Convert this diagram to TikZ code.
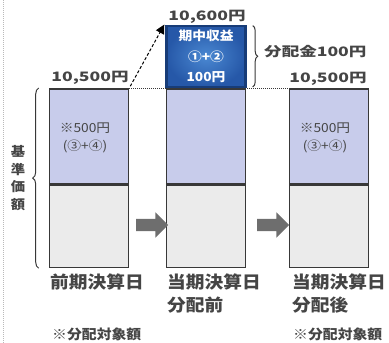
\documentclass[tikz,border=0pt]{standalone}
\usepackage{fontspec}
\setmainfont{Noto Sans CJK JP}
\newfontfamily\jpfont{Noto Sans CJK JP}[FakeStretch=1.1]
\newfontfamily\jpwide{Noto Sans CJK JP}[FakeStretch=1.35]
\usetikzlibrary{arrows.meta, shapes.arrows, decorations.pathreplacing}

\definecolor{uplav}{HTML}{C8CCEB}
\definecolor{lowgray}{HTML}{EBEBEB}
\definecolor{edgegray}{HTML}{383838}
\definecolor{incblue}{HTML}{4A88D2}
\definecolor{incmid}{HTML}{2658A8}
\definecolor{incdark}{HTML}{173C78}
\definecolor{txtgray}{HTML}{454545}
\definecolor{arrgray}{HTML}{6E6E6E}

\tikzset{
    part/.style={draw=edgegray, line width=1.6pt, minimum width=79pt, inner sep=0pt, anchor=north},
    price/.style={font=\jpwide\bfseries\fontsize{13}{13}\selectfont, text=txtgray, inner sep=0pt, anchor=base},
    amount/.style={font=\jpfont\fontsize{12.5}{13}\selectfont, text=txtgray, inner sep=0pt, anchor=base},
    dateline/.style={font=\jpfont\bfseries\fontsize{17}{17}\selectfont, text=txtgray, inner sep=0pt, anchor=base west},
    notebox/.style={font=\jpfont\bfseries\fontsize{13.5}{14}\selectfont, text=txtgray, inner sep=0pt, anchor=base west},
    fwd/.style={single arrow, fill=arrgray, minimum height=32pt, inner xsep=0pt, inner ysep=6pt,
        single arrow head extend=6.5pt, single arrow head indent=0pt}
}

\begin{document}
\begin{tikzpicture}[x=1pt, y=-1pt]
        \useasboundingbox (0,0) rectangle (389,343);
        \draw[densely dotted, gray!55, line width=1pt] (3,0) -- (3,343);

        % boxes
        \node[part, fill=uplav, minimum height=95pt] (b1top) at (89,88) {};
        \node[part, fill=lowgray, minimum height=82pt] (b1bot) at (b1top.south) {};
        \node[part, fill=uplav, minimum height=95pt] (b3top) at (329,88) {};
        \node[part, fill=lowgray, minimum height=82pt] (b3bot) at (b3top.south) {};

        \draw[densely dotted, edgegray, line width=1pt] (b1top.north east) -- (b3top.north west);

        \node[part, fill=uplav, minimum height=95pt] (b2top) at (206,88) {};
        \node[part, fill=lowgray, minimum height=82pt] (b2bot) at (b2top.south) {};
        \node[part, draw=incdark, line width=2.4pt, inner color=incblue, outer color=incmid,
            minimum height=61pt, anchor=south, text=white, align=center,
            font=\jpfont\bfseries\fontsize{12.5}{20.5}\selectfont] (inc) at (b2top.north) {期中収益\\①+②\\100円};

        \draw[densely dashed, line width=1pt, -{Triangle[length=9pt, width=9pt]}, shorten <=2pt]
            (b1top.north east) -- ([xshift=-1pt]inc.north west);

        % prices
        \node[price] (p1) at (90,81) {10,500円};
        \node[price] (p2) at (207,20) {10,600円};
        \node[price] (p3) at (328,82) {10,500円};
        \node[price, anchor=base west] (dist) at (264,56.5) {分配金100円};

        \node[amount] (a1) at (85,132) {※500円};
        \node[amount] (a1b) at (85,150) {(③+④)};
        \node[amount] (a3) at (325,132) {※500円};
        \node[amount] (a3b) at (325,150) {(③+④)};

        % braces
        \draw[edgegray, line width=1pt, decorate, decoration={brace, amplitude=6pt}]
            ([xshift=-10pt]b1bot.south west) -- ([xshift=-10pt]b1top.north west);
        \draw[edgegray, line width=1pt, decorate, decoration={brace, amplitude=5pt}]
            ([xshift=6pt,yshift=-1pt]inc.north east) -- ([xshift=6pt,yshift=1pt]inc.south east);
        \node[font=\jpfont\bfseries\fontsize{13}{17.5}\selectfont, text=txtgray, align=center, inner sep=0pt] (nav) at (18,178) {基\\準\\価\\額};

        % forward arrows
        \node[fwd] (go1) at (149,225) {};
        \node[fwd] (go2) at (270,225) {};

        % dates
        \node[dateline] (d1) at (50,288) {前期決算日};
        \node[dateline] (d2) at (167,288) {当期決算日};
        \node[dateline] (d2b) at (167,311) {分配前};
        \node[dateline] (d3) at (292,288) {当期決算日};
        \node[dateline] (d3b) at (292,311) {分配後};
        \node[notebox] (n1) at (52,339) {※分配対象額};
        \node[notebox] (n3) at (293,339) {※分配対象額};
    \end{tikzpicture}
\end{document}
